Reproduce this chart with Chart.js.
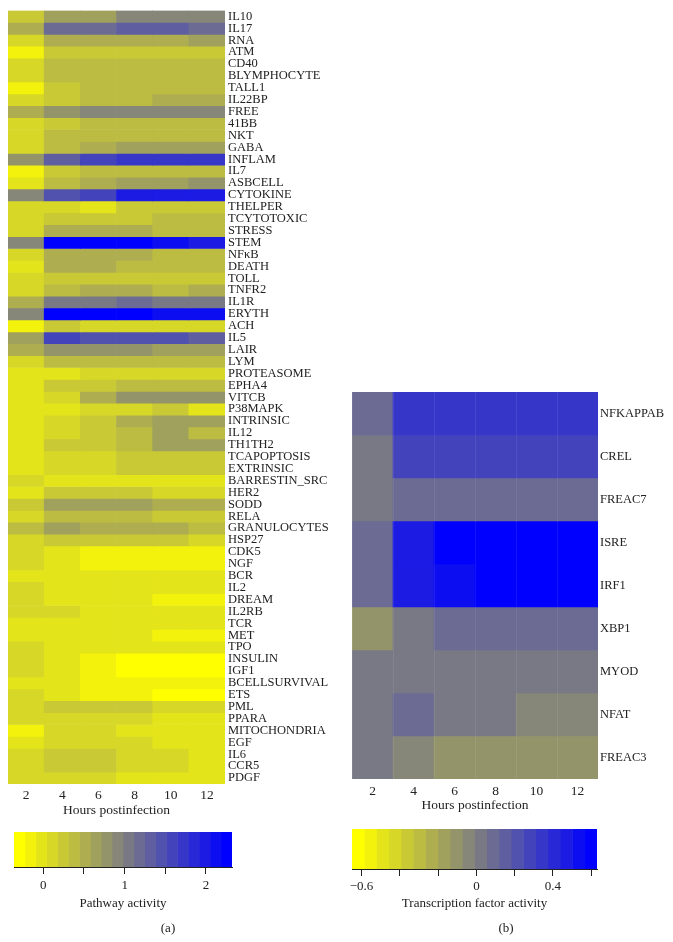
<!DOCTYPE html>
<html>
<head>
<meta charset="utf-8">
<script src="https://cdn.jsdelivr.net/npm/chart.js@4"></script>
<style>
body { margin: 0; background: #fff; }
#wrap { position: relative; width: 673px; height: 942px; overflow: hidden; }
canvas { position: absolute; }
.panel { position: absolute; font: 13px "Liberation Serif", serif; color: #222; transform: translate(-50%, -50%); }
</style>
</head>
<body>
<div id="wrap">
  <canvas id="pathways" width="340" height="819" style="left:0;top:0"></canvas>
  <canvas id="factors" width="333" height="434" style="left:340px;top:380px"></canvas>
  <canvas id="pathBar" width="300" height="122" style="left:0;top:820px"></canvas>
  <canvas id="factBar" width="333" height="122" style="left:340px;top:820px"></canvas>
  <div class="panel" style="left:168px;top:928px">(a)</div>
  <div class="panel" style="left:506px;top:928px">(b)</div>
</div>
<script>
const hours = ['2', '4', '6', '8', '10', '12'];

const pathways = ['IL10', 'IL17', 'RNA', 'ATM', 'CD40', 'BLYMPHOCYTE', 'TALL1', 'IL22BP', 'FREE', '41BB',
  'NKT', 'GABA', 'INFLAM', 'IL7', 'ASBCELL', 'CYTOKINE', 'THELPER', 'TCYTOTOXIC', 'STRESS', 'STEM',
  'NFκB', 'DEATH', 'TOLL', 'TNFR2', 'IL1R', 'ERYTH', 'ACH', 'IL5', 'LAIR', 'LYM',
  'PROTEASOME', 'EPHA4', 'VITCB', 'P38MAPK', 'INTRINSIC', 'IL12', 'TH1TH2', 'TCAPOPTOSIS', 'EXTRINSIC', 'BARRESTIN_SRC',
  'HER2', 'SODD', 'RELA', 'GRANULOCYTES', 'HSP27', 'CDK5', 'NGF', 'BCR', 'IL2', 'DREAM',
  'IL2RB', 'TCR', 'MET', 'TPO', 'INSULIN', 'IGF1', 'BCELLSURVIVAL', 'ETS', 'PML', 'PPARA',
  'MITOCHONDRIA', 'EGF', 'IL6', 'CCR5', 'PDGF'];

// pathway activity, one row per pathway, columns = hours
const pathwayValues = [
  [0.24, 0.65, 0.65, 0.91, 0.91, 0.91],
  [0.51, 1.18, 1.18, 1.32, 1.32, 1.18],
  [0.11, 0.51, 0.51, 0.51, 0.51, 0.65],
  [-0.15, 0.24, 0.24, 0.24, 0.24, 0.24],
  [0.11, 0.38, 0.38, 0.38, 0.38, 0.38],
  [0.11, 0.38, 0.38, 0.38, 0.38, 0.38],
  [-0.15, 0.24, 0.38, 0.38, 0.38, 0.38],
  [0.11, 0.24, 0.38, 0.38, 0.51, 0.51],
  [0.51, 0.78, 0.91, 0.91, 0.91, 0.91],
  [0.11, 0.24, 0.38, 0.38, 0.38, 0.38],
  [0.11, 0.38, 0.38, 0.38, 0.38, 0.38],
  [0.11, 0.38, 0.51, 0.65, 0.65, 0.65],
  [0.78, 1.32, 1.58, 1.72, 1.72, 1.72],
  [-0.15, 0.24, 0.38, 0.38, 0.38, 0.38],
  [-0.02, 0.38, 0.51, 0.65, 0.65, 0.78],
  [0.91, 1.45, 1.58, 1.99, 1.99, 1.99],
  [0.11, 0.11, -0.02, 0.24, 0.24, 0.24],
  [0.11, 0.24, 0.24, 0.24, 0.38, 0.38],
  [0.11, 0.51, 0.51, 0.51, 0.38, 0.38],
  [0.91, 2.25, 2.25, 2.25, 2.12, 1.99],
  [0.11, 0.51, 0.51, 0.51, 0.38, 0.38],
  [-0.02, 0.51, 0.51, 0.38, 0.38, 0.38],
  [0.11, 0.24, 0.24, 0.24, 0.24, 0.24],
  [0.11, 0.38, 0.51, 0.51, 0.38, 0.51],
  [0.51, 1.05, 1.05, 1.18, 1.05, 1.05],
  [0.91, 2.25, 2.25, 2.25, 2.12, 2.12],
  [-0.15, 0.24, 0.11, 0.11, 0.11, 0.11],
  [0.65, 1.58, 1.45, 1.45, 1.45, 1.32],
  [0.51, 0.78, 0.78, 0.78, 0.65, 0.65],
  [0.11, 0.38, 0.38, 0.38, 0.38, 0.38],
  [-0.02, -0.02, 0.11, 0.11, 0.11, 0.11],
  [-0.02, 0.24, 0.24, 0.38, 0.38, 0.38],
  [-0.02, 0.11, 0.51, 0.78, 0.78, 0.78],
  [-0.02, -0.02, 0.11, 0.11, 0.24, -0.02],
  [-0.02, 0.11, 0.24, 0.51, 0.65, 0.65],
  [-0.02, 0.11, 0.24, 0.38, 0.65, 0.38],
  [-0.02, 0.24, 0.24, 0.38, 0.65, 0.65],
  [-0.02, 0.11, 0.11, 0.24, 0.24, 0.24],
  [-0.02, 0.11, 0.11, 0.24, 0.24, 0.24],
  [0.11, -0.02, -0.02, -0.02, -0.02, -0.02],
  [-0.02, 0.24, 0.24, 0.24, 0.11, 0.11],
  [0.24, 0.65, 0.65, 0.65, 0.51, 0.51],
  [0.11, 0.38, 0.38, 0.38, 0.24, 0.24],
  [0.38, 0.65, 0.51, 0.51, 0.51, 0.38],
  [0.11, 0.24, 0.24, 0.24, 0.24, 0.11],
  [0.11, -0.02, -0.15, -0.15, -0.15, -0.15],
  [0.11, -0.02, -0.15, -0.15, -0.15, -0.15],
  [-0.02, -0.02, -0.02, -0.02, -0.02, -0.02],
  [0.11, -0.02, -0.02, -0.02, -0.02, -0.02],
  [0.11, -0.02, -0.02, -0.02, -0.15, -0.15],
  [0.11, 0.11, -0.02, -0.02, -0.02, -0.02],
  [-0.02, -0.02, -0.02, -0.02, -0.02, -0.02],
  [-0.02, -0.02, -0.02, -0.02, -0.15, -0.15],
  [0.11, -0.02, -0.02, -0.02, -0.02, -0.02],
  [0.11, -0.02, -0.15, -0.29, -0.29, -0.29],
  [0.11, -0.02, -0.15, -0.29, -0.29, -0.29],
  [-0.02, -0.02, -0.15, -0.15, -0.15, -0.15],
  [0.11, -0.02, -0.15, -0.15, -0.29, -0.29],
  [0.11, 0.24, 0.24, 0.24, 0.11, 0.11],
  [0.11, 0.11, 0.11, 0.11, -0.02, -0.02],
  [-0.15, 0.11, 0.11, -0.02, -0.02, -0.02],
  [-0.02, 0.11, 0.11, 0.11, -0.02, -0.02],
  [0.11, 0.24, 0.24, 0.11, 0.11, -0.02],
  [0.11, 0.24, 0.24, 0.11, 0.11, -0.02],
  [0.11, 0.11, 0.11, -0.02, -0.02, -0.02]
];

const factors = ['NFKAPPAB', 'CREL', 'FREAC7', 'ISRE', 'IRF1', 'XBP1', 'MYOD', 'NFAT', 'FREAC3'];

// transcription factor activity
const factorValues = [
  [0.09, 0.34, 0.34, 0.34, 0.34, 0.34],
  [0.02, 0.28, 0.28, 0.28, 0.28, 0.28],
  [0.02, 0.09, 0.09, 0.09, 0.09, 0.09],
  [0.09, 0.47, 0.60, 0.60, 0.60, 0.60],
  [0.09, 0.47, 0.53, 0.60, 0.60, 0.60],
  [-0.11, 0.02, 0.09, 0.09, 0.09, 0.09],
  [0.02, 0.02, 0.02, 0.02, 0.02, 0.02],
  [0.02, 0.09, 0.02, 0.02, -0.04, -0.04],
  [0.02, -0.04, -0.11, -0.11, -0.11, -0.11]
];

const pathwayRange = [-0.36, 2.32];
const factorRange = [-0.65, 0.63];
const pathwayTicks = [0, 0.5, 1, 1.5, 2];
const pathwayTickLabels = ['0', '', '1', '', '2'];
const factorTicks = [-0.6, -0.4, -0.2, 0, 0.2, 0.4, 0.6];
const factorTickLabels = ['\u22120.6', '', '', '0', '', '0.4', ''];

const NBANDS = 20;
const serif = '"Liberation Serif", "Times New Roman", serif';
const ink = '#222';

function bandRGB(i) {
  const t = i / (NBANDS - 1);
  const c = Math.round(255 * (1 - t));
  return 'rgb(' + c + ',' + c + ',' + Math.round(255 * t) + ')';
}

function bandColor(v, range) {
  let i = Math.floor((v - range[0]) / (range[1] - range[0]) * NBANDS);
  i = Math.max(0, Math.min(NBANDS - 1, i));
  return bandRGB(i);
}

function heatmap(id, rows, values, range, cfg) {
  const datasets = rows.map((name, r) => ({
    label: name,
    data: hours.map(() => 1),
    backgroundColor: values[r].map(v => bandColor(v, range))
  }));
  new Chart(document.getElementById(id), {
    type: 'bar',
    data: { labels: hours, datasets: datasets },
    options: {
      responsive: false,
      animation: false,
      layout: { padding: cfg.padding },
      datasets: { bar: { barPercentage: 1, categoryPercentage: 1, borderWidth: 0 } },
      plugins: { legend: { display: false }, tooltip: { enabled: false } },
      scales: {
        x: {
          stacked: true,
          grid: cfg.xGrid,
          border: { display: false },
          ticks: { color: ink, padding: cfg.tickPad, font: { family: serif, size: 13.5 }, maxRotation: 0 },
          title: { display: true, text: 'Hours postinfection', color: ink, padding: 0, font: { family: serif, size: 13.5 } },
          afterFit: s => { s.height = 35; }
        },
        y: {
          type: 'linear',
          stacked: true,
          position: 'right',
          reverse: true,
          min: 0,
          max: rows.length,
          grid: { display: false, drawTicks: false },
          border: { display: false },
          afterBuildTicks: s => { s.ticks = rows.map((_, i) => ({ value: i + 0.5 })); },
          ticks: {
            autoSkip: false,
            padding: cfg.labelPad,
            color: ink,
            font: { family: serif, size: cfg.labelSize },
            callback: (v, i) => rows[i]
          },
          afterFit: s => { s.width = cfg.labelWidth; }
        }
      }
    }
  });
}

function colorbar(id, range, tickVals, tickLabels, title, cfg) {
  const step = (range[1] - range[0]) / NBANDS;
  const datasets = [];
  for (let i = 0; i < NBANDS; i++) {
    datasets.push({ data: [[range[0] + i * step, range[0] + (i + 1) * step]], backgroundColor: bandRGB(i) });
  }
  new Chart(document.getElementById(id), {
    type: 'bar',
    data: { labels: [''], datasets: datasets },
    options: {
      indexAxis: 'y',
      responsive: false,
      animation: false,
      layout: { padding: cfg.padding },
      datasets: { bar: { grouped: false, barPercentage: 1, categoryPercentage: 1, borderWidth: 0 } },
      plugins: { legend: { display: false }, tooltip: { enabled: false } },
      scales: {
        y: { display: false },
        x: {
          type: 'linear',
          min: range[0],
          max: range[1],
          afterBuildTicks: s => { s.ticks = tickVals.map(v => ({ value: v })); },
          grid: { drawOnChartArea: false, tickLength: 7, color: ink },
          border: { display: true, color: ink },
          ticks: {
            autoSkip: false,
            maxRotation: 0,
            padding: cfg.tickPad,
            color: ink,
            font: { family: serif, size: 13 },
            callback: (v, i) => tickLabels[i]
          },
          title: { display: true, text: title, color: ink, padding: 0, font: { family: serif, size: 13 } },
          afterFit: s => { s.height = cfg.axisHeight; }
        }
      }
    }
  });
}

heatmap('pathways', pathways, pathwayValues, pathwayRange, {
  padding: { left: 8, top: 8, right: 0, bottom: 0 },
  labelWidth: 115, labelSize: 12.5, labelPad: 3, tickPad: 3,
  xGrid: { display: false, drawTicks: false }
});

heatmap('factors', factors, factorValues, factorRange, {
  padding: { left: 12, top: 12, right: 0, bottom: 0 },
  labelWidth: 75, labelSize: 12.5, labelPad: 2, tickPad: 4,
  xGrid: { display: true, drawTicks: false, color: 'rgba(255,255,255,0.08)', z: 1 }
});

colorbar('pathBar', pathwayRange, pathwayTicks, pathwayTickLabels, 'Pathway activity', {
  padding: { left: 14, right: 68, top: 12, bottom: 31 }, axisHeight: 44, tickPad: 4
});

colorbar('factBar', factorRange, factorTicks, factorTickLabels, 'Transcription factor activity', {
  padding: { left: 12, right: 76, top: 9, bottom: 31 }, axisHeight: 42, tickPad: 3
});
</script>
</body>
</html>
